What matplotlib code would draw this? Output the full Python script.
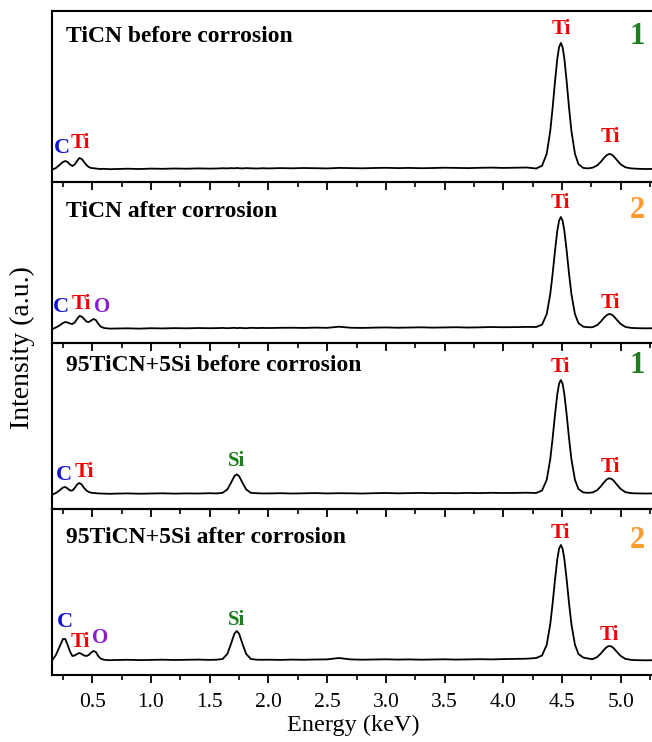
import matplotlib
matplotlib.use("Agg")
import matplotlib.pyplot as plt
from matplotlib.ticker import MultipleLocator

plt.rcParams['font.family'] = ['Liberation Serif', 'DejaVu Serif']

# energy grid (keV), denser around the peaks
energy = ([0.16, 0.19, 0.22, 0.25, 0.27, 0.29, 0.31, 0.33, 0.35, 0.37,
           0.39, 0.41, 0.43, 0.45, 0.47, 0.49, 0.51, 0.53, 0.55, 0.57]
          + [0.60, 0.65, 0.70, 0.80, 0.90, 1.00, 1.10, 1.20, 1.30, 1.40, 1.50]
          + [1.56, 1.61, 1.65, 1.68, 1.71, 1.73, 1.75, 1.78, 1.81, 1.85, 1.90, 1.95]
          + [2.0, 2.1, 2.2, 2.3, 2.4, 2.5, 2.6, 2.7, 2.8, 2.9, 3.0, 3.1,
             3.2, 3.3, 3.4, 3.5, 3.6, 3.7, 3.8, 3.9, 4.0, 4.1, 4.2]
          + [4.28, 4.33, 4.37, 4.40, 4.42, 4.44, 4.46, 4.475, 4.49,
             4.505, 4.52, 4.54, 4.56, 4.58, 4.61, 4.64, 4.68, 4.72]
          + [4.76, 4.80, 4.83, 4.86, 4.88, 4.90, 4.92, 4.94, 4.97,
             5.00, 5.04, 5.09, 5.15, 5.22, 5.30])

ticn_before = ([12.5, 14, 17, 20, 21, 20, 17.5, 16, 17.5, 21,
                24, 23, 20, 17, 15, 14, 13.8, 13.5, 13.2, 13]
               + [13.2, 12.8, 13.0, 13.3, 13.0, 13.4, 13.2, 13.5, 13.3, 13.6, 13.4]
               + [13.5, 13.8, 13.6, 13.9, 13.7, 14.0, 13.8, 13.6, 13.9, 13.7, 13.5, 13.8]
               + [13.6, 13.9, 13.7, 14.0, 13.8, 13.6, 14.1, 13.9, 13.7, 14.0, 14.2, 13.9,
                  14.1, 13.8, 14.0, 14.3, 14.1, 13.9, 14.2, 14.4, 14.1, 14.3, 14.5]
               + [13.5, 16.3, 28.3, 51.2, 74.1, 100.1, 123.3, 134.9, 139,
                  134.9, 123.3, 100.1, 74.1, 51.2, 28.3, 17.9, 14.1, 13.6]
               + [14.3, 16.6, 20.1, 24.4, 26.8, 28, 27.6, 25.7, 21.6,
                  17.6, 14.7, 13.6, 13.2, 13.0, 13.1])

ticn_after = ([14, 15.5, 17.5, 20, 21, 20.5, 19.5, 19, 20.5, 24,
               27, 26.5, 24, 21.5, 21, 22.5, 24, 23, 19.5, 16.5]
              + [15, 14.4, 14.5, 14.7, 14.4, 14.8, 14.6, 14.9, 14.7, 15.0, 14.8]
              + [14.9, 15.1, 14.8, 15.0, 15.2, 14.9, 15.1, 15.0, 14.8, 15.2, 15.0, 15.1]
              + [15.0, 15.2, 15.3, 15.1, 15.4, 15.2, 16.3, 15.3, 15.1, 15.4, 15.6, 15.3,
                 15.5, 15.7, 15.4, 15.6, 15.8, 15.5, 15.7, 16.0, 15.8, 15.9, 16.1]
              + [16, 18.4, 29, 49, 69.1, 91.9, 112.3, 122.4, 126,
                 122.4, 112.3, 91.9, 69.1, 49, 29, 19.9, 16.4, 15.8]
              + [15.8, 18, 21.4, 25.6, 27.8, 29, 28.6, 26.8, 22.8,
                 19, 16.1, 15.1, 14.8, 14.7, 14.8])

si_before = ([14.5, 16, 18.5, 21.5, 22, 20.5, 18.5, 18.5, 21, 24.5,
              26, 24.5, 21, 18.5, 17, 16.3, 16, 15.8, 15.6, 15.5]
             + [15.4, 15.2, 15.4, 15.6, 15.3, 15.5, 15.7, 15.4, 15.6, 15.5, 15.8]
             + [15.6, 16.2, 19.6, 26, 32.9, 34.7, 32.9, 26, 19.6, 16.2, 15.8, 15.6]
             + [15.6, 15.8, 15.5, 15.7, 15.9, 15.6, 15.8, 15.7, 15.5, 15.8, 16.0, 15.7,
                15.9, 16.1, 15.8, 16.0, 15.8, 16.1, 15.9, 16.2, 16.0, 16.1, 16.3]
             + [16, 18.5, 29.3, 49.9, 70.6, 94, 114.9, 125.3, 129,
                125.3, 114.9, 94, 70.6, 49.9, 29.3, 20, 16.6, 16.2]
             + [16.5, 18.9, 22.6, 27, 29.5, 30.7, 30.2, 28.4, 24,
                20, 16.9, 15.8, 15.6, 15.5, 15.6])

si_after = ([15, 20, 28, 36, 36, 30, 23.5, 19, 19.5, 21,
             22, 21, 19.5, 19, 20, 22.5, 24, 23, 19, 16.5]
            + [15.2, 14.8, 15.0, 15.2, 14.9, 15.1, 15.3, 15.0, 15.2, 15.4, 15.1]
            + [15.3, 16.0, 21.1, 30.8, 41.3, 44, 41.3, 30.8, 21.1, 16, 15.3, 15.2]
            + [15.3, 15.1, 15.4, 15.2, 15.5, 15.6, 17.0, 15.6, 15.3, 15.5, 15.7, 15.4,
               15.6, 15.3, 15.5, 15.7, 15.4, 15.6, 15.8, 15.6, 15.9, 16.1, 16.3]
            + [17, 19.5, 30.3, 50.9, 71.6, 95, 115.9, 126.3, 130,
               126.3, 115.9, 95, 71.6, 50.9, 30.3, 21, 17.5, 16.5]
            + [15.8, 18, 21.4, 25.6, 27.8, 29, 28.6, 26.8, 22.8,
               19, 16.1, 15.1, 14.8, 14.7, 14.8])

spectra = [ticn_before, ticn_after, si_before, si_after]
titles = ["TiCN before corrosion", "TiCN after corrosion",
          "95TiCN+5Si before corrosion", "95TiCN+5Si after corrosion"]
stages = ["1", "2", "1", "2"]

BLUE, RED, PURPLE, GREEN, ORANGE = "#1414d2", "#f00000", "#8a1ccf", "#1e7d1e", "#ff9a2e"
stage_colors = {"1": GREEN, "2": ORANGE}

# element labels per panel: (text, energy, height, colour)
peak_labels = [
    [("C", 0.242, 34, BLUE), ("Ti", 0.395, 39, RED), ("Ti", 4.49, 153, RED), ("Ti", 4.913, 45, RED)],
    [("C", 0.233, 36, BLUE), ("Ti", 0.41, 39, RED), ("O", 0.58, 36, PURPLE),
     ("Ti", 4.484, 140, RED), ("Ti", 4.91, 40, RED)],
    [("C", 0.259, 34, BLUE), ("Ti", 0.435, 37, RED), ("Si", 1.73, 48, GREEN),
     ("Ti", 4.484, 142, RED), ("Ti", 4.91, 42, RED)],
    [("C", 0.267, 53, BLUE), ("Ti", 0.401, 33, RED), ("O", 0.566, 37, PURPLE),
     ("Si", 1.73, 55, GREEN), ("Ti", 4.484, 142, RED), ("Ti", 4.90, 40, RED)],
]
title_y = [145, 132, 144, 138]
stage_y = [145, 133, 144, 135]

# panel boxes in figure fractions: bottom, height
panels = [(0.7547, 0.2305), (0.5377, 0.2170), (0.3140, 0.2237), (0.0903, 0.2237)]
panel_top = [171, 161, 166, 166]

fig = plt.figure(figsize=(6.52, 7.42), dpi=100)

for i in range(4):
    b, h = panels[i]
    ax = fig.add_axes([0.0798, b, 0.925, h])
    ax.set_facecolor("none")
    ax.plot(energy, spectra[i], color="black", lw=1.3)
    ax.set_xlim(0.157, 5.293)
    ax.set_ylim(0, panel_top[i])
    ax.set_yticks([])
    ax.xaxis.set_major_locator(MultipleLocator(0.5))
    ax.xaxis.set_minor_locator(MultipleLocator(0.25))
    ax.tick_params(axis="x", which="major", direction="out", length=6, width=1.3,
                   labelsize=15.5, pad=7, labelbottom=(i == 3))
    ax.tick_params(axis="x", which="minor", direction="out", length=3.5, width=1.2)
    for s in ax.spines.values():
        s.set_linewidth(1.5)

    ax.text(0.28, title_y[i], titles[i], fontsize=17, fontweight="bold",
            ha="left", va="center")
    ax.text(5.14, stage_y[i], stages[i], fontsize=22, fontweight="bold",
            color=stage_colors[stages[i]], ha="center", va="center")
    for txt, x, y, c in peak_labels[i]:
        ax.text(x, y, txt, fontsize=15 if txt != "C" else 16, fontweight="bold",
                color=c, ha="center", va="center")

    if i == 3:
        ax.set_xlabel("Energy (keV)", fontsize=17.5, labelpad=2)

fig.text(0.034, 0.532, "Intensity (a.u.)", rotation=90, fontsize=20,
         ha="center", va="center")

fig.savefig("out.png", dpi=100)
